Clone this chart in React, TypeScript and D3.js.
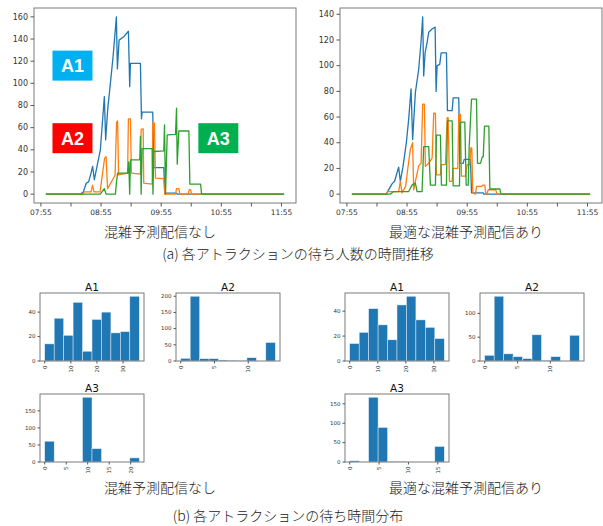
import React from 'react';
import * as d3 from 'd3';

// queue length over time, [minutes after 07:55, people]
// left panel: no congestion forecast
const noInfoA1: [number, number][] = [[5,0],[39.3,0],[42.3,2],[45.3,10],[47.6,11],[50,19],[51.6,25],[53.3,13],[59.3,40],[63.3,88],[64.6,49],[66.6,76],[69.3,100],[72,124],[75.3,160],[76.3,113],[78,139],[82.6,142],[87.3,147],[88.6,97],[89.3,118],[99.3,118],[100.3,68],[101,74],[111.6,74],[112.6,24],[122.6,24],[123.6,1],[135.3,1],[136,0],[242.6,0]];
const noInfoA2: [number, number][] = [[5,0],[42,0],[43,2],[50,2],[51.5,8],[53,2],[59,2],[63.5,32],[65,34],[66.5,5],[74,17],[75.5,65],[76.5,66],[77.5,17.5],[86.5,19],[87.3,68],[89.3,68],[90.3,19],[99.3,18],[100,58.5],[102,59],[102.6,10],[111,9],[111.6,64],[113.3,64],[114.3,14.5],[122.6,14],[123.6,0],[134.3,0],[135.3,5],[137.6,5],[138.6,0],[147,0],[148,4],[149.3,4],[150.3,0],[242.6,0]];
const noInfoA3: [number, number][] = [[5,0],[59.3,0],[63.3,5],[65,0],[74.3,0],[75.3,10],[76.5,19],[86.6,19],[87.6,29],[88.6,0],[89.3,31],[98.6,31],[99.3,52],[100,0],[101,41],[111,41],[111.8,0],[112.6,38.5],[122.6,39],[123.3,62.5],[124.3,0],[126,53.5],[134.3,54],[135.3,77.5],[136,27],[137.6,57],[147.6,57],[148.6,9],[159.3,9],[160.3,0],[242.6,0]];

// right panel: optimal congestion forecast
const bestA1: [number, number][] = [[5,0],[39.3,0],[40.6,2],[45,8],[47.6,10],[51.6,21],[53.3,10],[56,21.6],[59.3,40],[61.6,58],[64,82],[65.6,42.5],[68.3,79],[71.6,97],[74,119],[75.6,138],[76.6,92],[78,110],[80,118],[81.6,126],[85,128.5],[88,130],[89,80],[90,100],[92.6,101],[94,110],[99.3,110],[100.3,65],[105,65],[106,75],[111.6,75],[112.6,24],[116,24],[117,27],[123.3,27],[124.3,1],[136,1],[136.6,0],[242.6,0]];
const bestA2: [number, number][] = [[5,0],[39.3,0],[40.6,2],[51.6,2],[53.3,10],[55,1],[58.6,6],[60.6,19],[63.3,35],[65.6,40],[66.6,3.4],[68.3,10],[70,16],[71.6,22],[74,24],[75.6,70],[77.3,70],[78.3,21.6],[81.6,24],[85,28],[86.6,63],[88.3,63],[89.3,15],[93.3,15],[94,23],[98.3,23],[100,59.5],[101,59.5],[102.3,10],[105,10],[106,20],[110.6,20],[111.6,62],[113.3,62],[114.3,14],[118.3,14],[120,23],[122.6,23],[123.6,36],[124.6,36],[125.6,1],[128.3,0],[129.3,6],[134.3,6],[135.6,7],[137.6,7],[138.6,0],[139.6,0],[141,3.4],[148.3,3.4],[150,0],[242.6,0]];
const bestA3: [number, number][] = [[5,0],[43.3,0],[46.6,2],[61.6,2],[65,7],[68.3,8.6],[70,2],[75,2],[76.6,37],[81.6,37],[83.3,7],[88.3,7],[89.3,46],[93.3,46],[94.3,7],[99.3,7],[100.3,57],[105,57],[106,6.5],[112.3,6.5],[113.3,56],[117.6,56],[119,7],[121,7],[122,37],[124.3,74],[129.3,74],[130.3,24],[133.3,24],[135,29],[136,29],[137.3,53],[141.6,53],[142.6,4],[152.6,4],[153.6,0],[242.6,0]];

const timeTicks = [0, 30, 60, 90, 120, 150, 180, 210, 240];
const timeLabels = ['07:55', '', '08:55', '', '09:55', '', '10:55', '', '11:55'];
const noInfoYTicks = [0, 20, 40, 60, 80, 100, 120, 140, 160];
const bestYTicks = [0, 20, 40, 60, 80, 100, 120, 140];

// labels in the left panel, [name, minutes, people]
const boxLabels: [string, number, number, string][] = [
  ['A1', 31.5, 116, '#00b0f0'],
  ['A2', 31.5, 50.5, '#ff0000'],
  ['A3', 177, 50.5, '#00b050'],
];

// waiting time histograms (10 bins from 0 to max)
const noInfoHistA1 = [14, 35, 21, 48, 8, 34, 40, 23, 24, 53];
const noInfoHistA2 = [8, 200, 7, 7, 3, 2, 1, 10, 0, 57];
const noInfoHistA3 = [61, 0, 0, 0, 190, 39, 0, 0, 0, 12];
const bestHistA1 = [14, 23, 42, 29, 17, 45, 52, 33, 27, 18];
const bestHistA2 = [12, 136, 15, 9, 5, 55, 1, 9, 0, 54];
const bestHistA3 = [3, 0, 167, 89, 1, 1, 0, 0, 0, 40];

const COLORS = ['#1f77b4', '#ff7f0e', '#2ca02c'];
const TICK_FONT = '"DejaVu Sans", sans-serif';
const JP_FONT = '"Noto Sans CJK JP", sans-serif';

type LineProps = {
  left: number;
  series: [number, number][][];
  yTicks: number[];
  boxes?: [string, number, number, string][];
};

const LinePanel = ({ left, series, yTicks, boxes }: LineProps) => {
  const width = 262, top = 8, bottom = 203;
  const all = series.flat();
  const [tMin, tMax] = d3.extent(all, d => d[0]) as [number, number];
  const vMax = d3.max(all, d => d[1]) as number;
  const tPad = (tMax - tMin) * 0.05, vPad = vMax * 0.05;

  const x = d3.scaleLinear().domain([tMin - tPad, tMax + tPad]).range([left, left + width]);
  const y = d3.scaleLinear().domain([-vPad, vMax + vPad]).range([bottom, top]);
  const line = d3.line<[number, number]>().x(d => x(d[0])).y(d => y(d[1]));

  return (
    <g>
      {series.map((s, i) => (
        <path key={i} d={line(s) || ''} fill="none" stroke={COLORS[i]} strokeWidth={1.3} strokeLinejoin="round" />
      ))}
      <rect x={left} y={top} width={width} height={bottom - top} fill="none" stroke="#7a7a7a" strokeWidth={1} />
      {yTicks.map(t => (
        <g key={t} transform={`translate(${left}, ${y(t)})`}>
          <line x1={-3.5} x2={0} stroke="#555" />
          <text x={-6} dy="0.33em" textAnchor="end" fontSize={8} fontFamily={TICK_FONT} fill="#333">{t}</text>
        </g>
      ))}
      {timeTicks.map((t, i) => (
        <g key={t} transform={`translate(${x(t)}, ${bottom})`}>
          <line y1={0} y2={3.5} stroke="#555" />
          {timeLabels[i] && (
            <text y={11.5} textAnchor="middle" fontSize={7.5} fontFamily={TICK_FONT} fill="#333">{timeLabels[i]}</text>
          )}
        </g>
      ))}
      {boxes && boxes.map(([name, t, v, c]) => (
        <g key={name} transform={`translate(${x(t)}, ${y(v)})`}>
          <rect x={-20} y={-15} width={40} height={30} fill={c} />
          <text y={6.5} textAnchor="middle" fontSize={18} fontWeight="bold" fontFamily='"Liberation Sans", Arial, sans-serif' fill="#fff">{name}</text>
        </g>
      ))}
    </g>
  );
};

type HistProps = {
  left: number;
  top: number;
  title: string;
  counts: number[];
  maxVal: number;
  xTicks: number[];
  yTicks: number[];
};

const Hist = ({ left, top, title, counts, maxVal, xTicks, yTicks }: HistProps) => {
  const width = 104, height = 68;
  const bottom = top + height;
  const edges = d3.range(counts.length + 1).map(i => (i * maxVal) / counts.length);
  const x = d3.scaleLinear().domain([-maxVal * 0.05, maxVal * 1.05]).range([left, left + width]);
  const y = d3.scaleLinear().domain([0, (d3.max(counts) as number) * 1.05]).range([bottom, top]);

  return (
    <g>
      <text x={left + width / 2} y={top - 2.5} textAnchor="middle" fontSize={10.5} fontFamily={TICK_FONT} fill="#111">{title}</text>
      {counts.map((c, i) => (
        <rect key={i} x={x(edges[i])} y={y(c)} width={x(edges[i + 1]) - x(edges[i])} height={bottom - y(c)}
          fill="#1f77b4" stroke="#e6eef7" strokeWidth={0.5} />
      ))}
      <rect x={left} y={top} width={width} height={height} fill="none" stroke="#7a7a7a" strokeWidth={1} />
      {yTicks.map(t => (
        <g key={t} transform={`translate(${left}, ${y(t)})`}>
          <line x1={-2.5} x2={0} stroke="#555" />
          <text x={-4.5} dy="0.33em" textAnchor="end" fontSize={5.5} fontFamily={TICK_FONT} fill="#333">{t}</text>
        </g>
      ))}
      {xTicks.map(t => (
        <g key={t} transform={`translate(${x(t)}, ${bottom})`}>
          <line y1={0} y2={2.5} stroke="#555" />
          <text transform="translate(0, 4.5) rotate(-90)" dy="0.35em" textAnchor="end" fontSize={5.5} fontFamily={TICK_FONT} fill="#333">{t}</text>
        </g>
      ))}
    </g>
  );
};

const Caption = ({ x, y, text }: { x: number; y: number; text: string }) => (
  <text x={x} y={y} textAnchor="middle" fontSize={14} fontFamily={JP_FONT} fontWeight={300} fill="#222">{text}</text>
);

export default function App() {
  return (
    <svg width={603} height={526} style={{ position: 'absolute', left: 0, top: 0, background: '#fff' }}>
      <LinePanel left={34} series={[noInfoA1, noInfoA2, noInfoA3]} yTicks={noInfoYTicks} boxes={boxLabels} />
      <LinePanel left={340} series={[bestA1, bestA2, bestA3]} yTicks={bestYTicks} />
      <Caption x={160} y={236.5} text="混雑予測配信なし" />
      <Caption x={466} y={236.5} text="最適な混雑予測配信あり" />
      <Caption x={298} y={258.5} text="(a) 各アトラクションの待ち人数の時間推移" />

      <Hist left={40} top={293} title="A1" counts={noInfoHistA1} maxVal={36.2} xTicks={[0, 10, 20, 30]} yTicks={[0, 20, 40]} />
      <Hist left={176} top={293} title="A2" counts={noInfoHistA2} maxVal={14} xTicks={[0, 5, 10]} yTicks={[0, 50, 100, 150, 200]} />
      <Hist left={40} top={394} title="A3" counts={noInfoHistA3} maxVal={22} xTicks={[0, 5, 10, 15, 20]} yTicks={[0, 50, 100, 150]} />
      <Hist left={345} top={293} title="A1" counts={bestHistA1} maxVal={33.7} xTicks={[0, 10, 20, 30]} yTicks={[0, 20, 40]} />
      <Hist left={480} top={293} title="A2" counts={bestHistA2} maxVal={14.4} xTicks={[0, 5, 10]} yTicks={[0, 50, 100]} />
      <Hist left={345} top={394} title="A3" counts={bestHistA3} maxVal={16.1} xTicks={[0, 5, 10, 15]} yTicks={[0, 50, 100, 150]} />
      <Caption x={160} y={493} text="混雑予測配信なし" />
      <Caption x={466} y={493} text="最適な混雑予測配信あり" />
      <Caption x={288} y={521} text="(b) 各アトラクションの待ち時間分布" />
    </svg>
  );
}
